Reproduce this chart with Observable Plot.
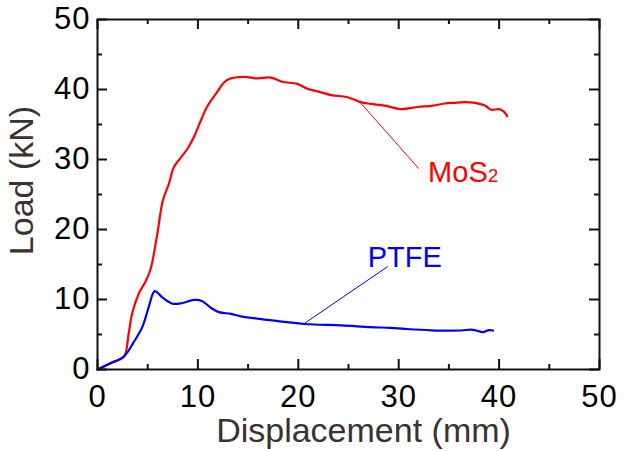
<!DOCTYPE html>
<html>
<head>
<meta charset="utf-8">
<script src="https://cdn.jsdelivr.net/npm/d3@7"></script>
<script src="https://cdn.jsdelivr.net/npm/@observablehq/plot@0.6"></script>
<style>
  html, body { margin: 0; padding: 0; background: #fff; }
  #chart svg { display: block; }
  #chart svg g[aria-label="x-axis tick label"] text,
  #chart svg g[aria-label="y-axis tick label"] text { letter-spacing: 1px; }
</style>
</head>
<body>
<div id="chart"></div>
<script>
// MoS2 curve (displacement mm, load kN)
const mos2X = [0, 1.3, 2.63, 3.1, 3.45, 4.1, 4.8, 5.3, 5.96, 6.5, 7.1, 7.6, 8.2, 8.95, 9.6, 10.3, 10.9, 11.8, 12.6, 13.1, 14.6, 15.9, 17.3, 18.4, 19.9, 20.9, 22.0, 23.3, 24.9, 26.2, 27.2, 28.6, 30.2, 31.9, 33.4, 34.6, 35.5, 36.6, 37.6, 38.6, 39.2, 40.0, 40.5, 40.8];
const mos2Y = [0, 0.9, 1.86, 5.1, 8.0, 10.8, 12.6, 14.4, 19.4, 24.1, 26.5, 28.9, 30.1, 31.5, 33.2, 35.6, 37.5, 39.4, 41.0, 41.5, 41.8, 41.6, 41.7, 41.1, 40.8, 40.1, 39.7, 39.2, 38.9, 38.2, 37.95, 37.7, 37.2, 37.5, 37.7, 38.0, 38.1, 38.2, 38.1, 37.7, 37.1, 37.2, 36.8, 36.2];
// PTFE curve
const ptfeX = [0, 1.3, 2.63, 3.6, 4.46, 5.1, 5.7, 6.45, 7.45, 8.45, 9.6, 10.4, 11.3, 12.1, 13.3, 14.3, 16.9, 20.6, 24.3, 27.2, 29.2, 30.6, 33.2, 36.2, 37.2, 37.7, 38.4, 38.9, 39.4];
const ptfeY = [0, 0.9, 1.86, 3.9, 6.05, 8.9, 11.2, 10.3, 9.4, 9.5, 9.95, 9.8, 8.8, 8.2, 7.95, 7.6, 7.1, 6.5, 6.3, 6.05, 5.95, 5.8, 5.6, 5.57, 5.7, 5.57, 5.35, 5.6, 5.57];

const seriesNames = ["MoS2", "PTFE"];
const seriesColors = ["#ff0000", "#0000ff"];
// label anchors and leader lines, in data units
const labelX = [32.93, 30.6];
const labelY = [28.05, 15.9];
const leaderX1 = [26.2, 20.6];
const leaderY1 = [38.1, 6.57];
const leaderX2 = [32.0, 28.9];
const leaderY2 = [28.7, 14.7];

const xMajor = [0, 10, 20, 30, 40, 50];
const xMinor = [5, 15, 25, 35, 45];
const yMajor = [0, 10, 20, 30, 40, 50];
const yMinor = [5, 15, 25, 35, 45];
const xTitle = "Displacement (mm)";
const yTitle = "Load (kN)";

const mos2 = mos2X.map((x, i) => ({x, y: mos2Y[i]}));
const ptfe = ptfeX.map((x, i) => ({x, y: ptfeY[i]}));
const labels = seriesNames.map((name, i) => ({name, x: labelX[i], y: labelY[i], color: seriesColors[i]}));
const leaders = seriesNames.map((name, i) => ({x1: leaderX1[i], y1: leaderY1[i], x2: leaderX2[i], y2: leaderY2[i], color: seriesColors[i]}));

const W = 625, H = 451;
const mL = 97, mR = 26, mT = 19, mB = 82;
const innerW = W - mL - mR, innerH = H - mT - mB;
const majorLen = 10, minorLen = 5;
const tickColor = "#111";

const plot = Plot.plot({
  width: W, height: H,
  marginLeft: mL, marginRight: mR, marginTop: mT, marginBottom: mB,
  style: {fontFamily: "'Liberation Sans', Arial, sans-serif", background: "#fff", color: "#000"},
  x: {domain: [0, 50]},
  y: {domain: [0, 50]},
  marks: [
    // ticks (inward, all four sides)
    Plot.ruleX(xMajor, {x: d => d, insetTop: innerH - majorLen, stroke: tickColor, strokeWidth: 2}),
    Plot.ruleX(xMinor, {x: d => d, insetTop: innerH - minorLen, stroke: tickColor, strokeWidth: 2}),
    Plot.ruleX(xMajor, {x: d => d, insetBottom: innerH - majorLen, stroke: tickColor, strokeWidth: 2}),
    Plot.ruleX(xMinor, {x: d => d, insetBottom: innerH - minorLen, stroke: tickColor, strokeWidth: 2}),
    Plot.ruleY(yMajor, {y: d => d, insetRight: innerW - majorLen, stroke: tickColor, strokeWidth: 2}),
    Plot.ruleY(yMinor, {y: d => d, insetRight: innerW - minorLen, stroke: tickColor, strokeWidth: 2}),
    Plot.ruleY(yMajor, {y: d => d, insetLeft: innerW - majorLen, stroke: tickColor, strokeWidth: 2}),
    Plot.ruleY(yMinor, {y: d => d, insetLeft: innerW - minorLen, stroke: tickColor, strokeWidth: 2}),
    Plot.axisX({ticks: xMajor, tickSize: 0, tickPadding: 15, fontSize: 31, label: null, tickFormat: d => String(d)}),
    Plot.axisY({ticks: yMajor, tickSize: 0, tickPadding: 7, fontSize: 31, label: null, tickFormat: d => String(d)}),
    // leader lines
    Plot.link(leaders, {x1: "x1", y1: "y1", x2: "x2", y2: "y2", stroke: "color", strokeWidth: 1}),
    // curves
    Plot.line(mos2, {x: "x", y: "y", stroke: seriesColors[0], strokeWidth: 2.2, curve: "catmull-rom"}),
    Plot.line(ptfe, {x: "x", y: "y", stroke: seriesColors[1], strokeWidth: 2.2, curve: "catmull-rom"}),
    // series labels
    Plot.text(labels.slice(0, 1), {x: "x", y: "y", text: "name", fill: "color", fontSize: 29, textAnchor: "start"}),
    Plot.text(labels.slice(1), {x: "x", y: "y", text: "name", fill: "color", fontSize: 29, textAnchor: "middle"}),
    Plot.frame({stroke: tickColor, strokeWidth: 2}),
    // axis titles
    Plot.text([xTitle], {frameAnchor: "bottom", lineAnchor: "middle", textAnchor: "middle", text: d => d, dy: 62, dx: 15, fontSize: 34, fill: "#3a3232"}),
    Plot.text([yTitle], {frameAnchor: "left", lineAnchor: "middle", textAnchor: "middle", text: d => d, rotate: -90, dx: -75, dy: -14, fontSize: 34, fill: "#3a3232"})
  ]
});

// subscript the "2" in MoS2
d3.select(plot).selectAll("text").filter(function() { return this.textContent === "MoS2"; })
  .each(function() {
    const t = d3.select(this);
    t.text("MoS");
    t.append("tspan").attr("font-size", 19).text("2");
  });

document.getElementById("chart").appendChild(plot);
</script>
</body>
</html>
